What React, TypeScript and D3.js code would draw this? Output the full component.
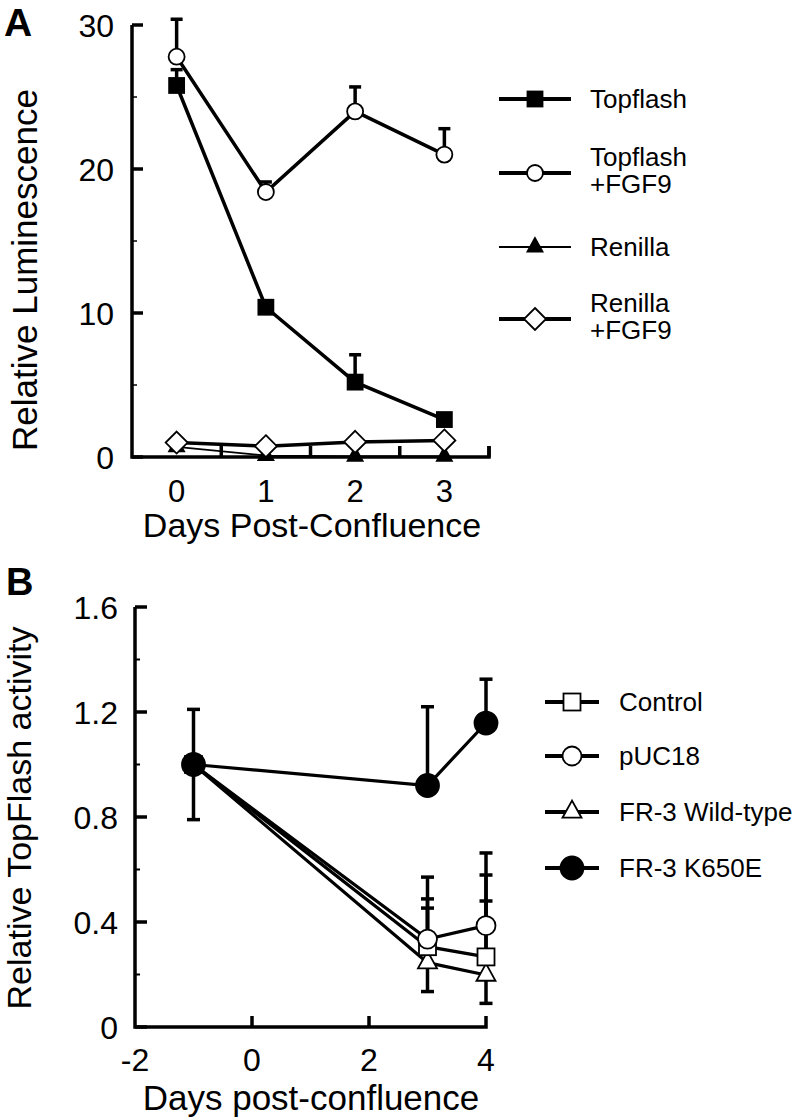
import React from "react";
import * as d3 from "d3";

// ---------- Panel A data ----------
const daysA = [0, 1, 2, 3];
const topflash = [25.8, 10.4, 5.2, 2.6];
const topflashErr = [1.1, 0.4, 1.9, 0.3];
const topflashFgf9 = [27.8, 18.4, 24.0, 21.0];
const topflashFgf9Err = [2.6, 0.7, 1.7, 1.8];
const renilla = [0.7, 0.1, 0.05, 0.05];
const renillaFgf9 = [1.0, 0.75, 1.05, 1.15];
const yTicksA = [0, 10, 20, 30];
const yMinorA = [5, 15, 25];
const xTickMarksA = [0.5, 1.5, 2.5, 3.5];
const xLabelsA = ["0", "1", "2", "3"];

// ---------- Panel B data ----------
const daysB = [-1, 3, 4];
const control = [1.0, 0.306, 0.267];
const controlErrUp = [0, 0.182, 0.312];
const pUC18 = [1.0, 0.335, 0.386];
const pUC18ErrUp = [0, 0.236, 0.277];
const wildType = [1.0, 0.245, 0.198];
const wildTypeErrUp = [0, 0.208, 0.282];
const wildTypeErrDown = [0, 0.11, 0.108];
const k650e = [1.0, 0.92, 1.158];
const k650eErrUp = [0.21, 0.3, 0.167];
const k650eErrDown = [0.21, 0, 0];
const yTicksB = [0, 0.4, 0.8, 1.2, 1.6];
const yLabelsB = ["0", "0.4", "0.8", "1.2", "1.6"];
const yMinorB = [0.2, 0.6, 1.0, 1.4];
const xTicksB = [-2, 0, 2, 4];

const FONT = "'Liberation Sans', Arial, Helvetica, sans-serif";

type Shape = "square" | "circle" | "triangle" | "diamond";

function Marker({ shape, x, y, size, fill, sw = 1.8 }: { shape: Shape; x: number; y: number; size: number; fill: string; sw?: number }) {
  const s = size;
  if (shape === "square") return <rect x={x - s / 2} y={y - s / 2} width={s} height={s} fill={fill} stroke="#000" strokeWidth={sw} />;
  if (shape === "circle") return <circle cx={x} cy={y} r={s / 2} fill={fill} stroke="#000" strokeWidth={sw} />;
  if (shape === "triangle") {
    const h = s * 0.9;
    const pts = `${x},${y - (h * 2) / 3} ${x - s / 2},${y + h / 3} ${x + s / 2},${y + h / 3}`;
    return <polygon points={pts} fill={fill} stroke="#000" strokeWidth={sw} strokeLinejoin="miter" />;
  }
  const pts = `${x},${y - s / 2} ${x + s / 2},${y} ${x},${y + s / 2} ${x - s / 2},${y}`;
  return <polygon points={pts} fill={fill} stroke="#000" strokeWidth={sw} />;
}

function ErrBar({ x, y0, y1, w = 12, sw = 3.5 }: { x: number; y0: number; y1: number; w?: number; sw?: number }) {
  return (
    <g stroke="#000" strokeWidth={sw}>
      <line x1={x} x2={x} y1={y0} y2={y1} />
      <line x1={x - w / 2} x2={x + w / 2} y1={y1} y2={y1} />
    </g>
  );
}

export default function App() {
  // scales A
  const xA = d3.scaleLinear().domain([-0.5, 3.5]).range([132, 489]);
  const yA = d3.scaleLinear().domain([0, 30]).range([457, 25]);
  // scales B
  const xB = d3.scaleLinear().domain([-2, 4]).range([135, 486]);
  const yB = d3.scaleLinear().domain([0, 1.6]).range([1027, 607]);

  const lineA = (vals: number[]) =>
    d3.line<number>().x((_, i) => xA(daysA[i])).y((d) => yA(d))(vals) || "";
  const lineB = (vals: number[]) =>
    d3.line<number>().x((_, i) => xB(daysB[i])).y((d) => yB(d))(vals) || "";

  const seriesA = [
    { name: ["Topflash"], vals: topflash, err: topflashErr, shape: "square" as Shape, fill: "#000", size: 15, lw: 3.5 },
    { name: ["Topflash", "+FGF9"], vals: topflashFgf9, err: topflashFgf9Err, shape: "circle" as Shape, fill: "#fff", size: 16, lw: 3.5 },
    { name: ["Renilla"], vals: renilla, err: null, shape: "triangle" as Shape, fill: "#000", size: 15, lw: 1.8 },
    { name: ["Renilla", "+FGF9"], vals: renillaFgf9, err: null, shape: "diamond" as Shape, fill: "#fff", size: 22, lw: 3.5 },
  ];
  const legendAY = [99, 173, 247, 319];

  const seriesB = [
    { name: "Control", vals: control, up: controlErrUp, down: null as number[] | null, shape: "square" as Shape, fill: "#fff", size: 17 },
    { name: "pUC18", vals: pUC18, up: pUC18ErrUp, down: null, shape: "circle" as Shape, fill: "#fff", size: 19 },
    { name: "FR-3 Wild-type", vals: wildType, up: wildTypeErrUp, down: wildTypeErrDown, shape: "triangle" as Shape, fill: "#fff", size: 19 },
    { name: "FR-3 K650E", vals: k650e, up: k650eErrUp, down: k650eErrDown, shape: "circle" as Shape, fill: "#000", size: 23 },
  ];
  const legendBY = [702, 756, 812, 868];

  return (
    <svg width={800} height={1118} style={{ position: "absolute", left: 0, top: 0, background: "#fff" }} fontFamily={FONT}>
      <rect width={800} height={1118} fill="#fff" />

      {/* ================= Panel A ================= */}
      <text x={4} y={36} fontSize={39} fontWeight="bold">A</text>
      <g stroke="#000" strokeWidth={3.5} fill="none">
        <path d={`M${xA(-0.5)},${yA(30)} V${yA(0)} H${xA(3.5)} V${yA(0) - 11}`} strokeLinejoin="miter" />
        {yTicksA.map((t) => (
          <line key={t} x1={xA(-0.5)} x2={xA(-0.5) + 11} y1={yA(t)} y2={yA(t)} />
        ))}
        {yMinorA.map((t) => (
          <line key={t} x1={xA(-0.5)} x2={xA(-0.5) + 5} y1={yA(t)} y2={yA(t)} strokeWidth={1.5} />
        ))}
        {xTickMarksA.map((t) => (
          <line key={t} x1={xA(t)} x2={xA(t)} y1={yA(0)} y2={yA(0) - 11} />
        ))}
      </g>
      {yTicksA.map((t) => (
        <text key={t} x={114} y={yA(t) + 11.5} fontSize={32} textAnchor="end">{t}</text>
      ))}
      {xLabelsA.map((l, i) => (
        <text key={l} x={xA(daysA[i])} y={502} fontSize={31} textAnchor="middle">{l}</text>
      ))}
      <text x={312} y={537} fontSize={34} textAnchor="middle">Days Post-Confluence</text>
      <text transform={`translate(37,270) rotate(-90)`} fontSize={35} textAnchor="middle">Relative Luminescence</text>

      {seriesA.map((s, k) => (
        <path key={k} d={lineA(s.vals)} fill="none" stroke="#000" strokeWidth={s.lw} />
      ))}
      {seriesA.map((s, k) =>
        s.err
          ? s.vals.map((v, i) => <ErrBar key={`${k}-${i}`} x={xA(daysA[i])} y0={yA(v)} y1={yA(v + s.err![i])} />)
          : null
      )}
      {[2, 0, 3, 1].map((k) =>
        seriesA[k].vals.map((v, i) => (
          <Marker key={`${k}-${i}`} shape={seriesA[k].shape} x={xA(daysA[i])} y={yA(v)} size={seriesA[k].size} fill={seriesA[k].fill} />
        ))
      )}
      {seriesA.map((s, k) => {
        const y = legendAY[k];
        return (
          <g key={k}>
            <line x1={499} x2={571} y1={y} y2={y} stroke="#000" strokeWidth={s.lw === 1.8 ? 2 : 4} />
            <Marker shape={s.shape} x={535} y={y} size={s.size} fill={s.fill} />
            {s.name.length === 1 ? (
              <text x={590} y={y + 9} fontSize={26}>{s.name[0]}</text>
            ) : (
              <text fontSize={26}>
                <tspan x={590} y={y - 7}>{s.name[0]}</tspan>
                <tspan x={590} y={y + 20}>{s.name[1]}</tspan>
              </text>
            )}
          </g>
        );
      })}

      {/* ================= Panel B ================= */}
      <text x={6} y={595} fontSize={38} fontWeight="bold">B</text>
      <g stroke="#000" strokeWidth={3.5} fill="none">
        <path d={`M${xB(-2)},${yB(1.6)} V${yB(0)} H${xB(4)} V${yB(0) - 11}`} />
        {yTicksB.map((t) => (
          <line key={t} x1={xB(-2)} x2={xB(-2) + 12} y1={yB(t)} y2={yB(t)} />
        ))}
        {yMinorB.map((t) => (
          <line key={t} x1={xB(-2)} x2={xB(-2) + 5} y1={yB(t)} y2={yB(t)} strokeWidth={2} />
        ))}
        {xTicksB.slice(1, 3).map((t) => (
          <line key={t} x1={xB(t)} x2={xB(t)} y1={yB(0)} y2={yB(0) - 11} />
        ))}
      </g>
      {yTicksB.map((t, i) => (
        <text key={t} x={118} y={yB(t) + 11.5} fontSize={32} textAnchor="end">{yLabelsB[i]}</text>
      ))}
      {xTicksB.map((t) => (
        <text key={t} x={xB(t)} y={1071} fontSize={32} textAnchor="middle">{t}</text>
      ))}
      <text x={311} y={1110} fontSize={35} textAnchor="middle">Days post-confluence</text>
      <text transform={`translate(31,818) rotate(-90)`} fontSize={34} textAnchor="middle">Relative TopFlash activity</text>

      {seriesB.map((s, k) =>
        s.vals.map((v, i) => (
          <g key={`${k}-${i}`}>
            {s.up && s.up[i] > 0 ? <ErrBar x={xB(daysB[i])} y0={yB(v)} y1={yB(v + s.up[i])} w={13} sw={3.5} /> : null}
            {s.down && s.down[i] > 0 ? <ErrBar x={xB(daysB[i])} y0={yB(v)} y1={yB(v - s.down[i])} w={13} sw={3.5} /> : null}
          </g>
        ))
      )}
      {seriesB.map((s, k) => (
        <path key={k} d={lineB(s.vals)} fill="none" stroke="#000" strokeWidth={3.2} />
      ))}
      {[2, 0, 1, 3].map((k) =>
        seriesB[k].vals.map((v, i) => (
          <Marker key={`${k}-${i}`} shape={seriesB[k].shape} x={xB(daysB[i])} y={yB(v)} size={seriesB[k].size} fill={seriesB[k].fill} />
        ))
      )}
      {seriesB.map((s, k) => {
        const y = legendBY[k];
        return (
          <g key={k}>
            <line x1={545} x2={599} y1={y} y2={y} stroke="#000" strokeWidth={4} />
            <Marker shape={s.shape} x={572} y={y} size={s.size} fill={s.fill} />
            <text x={619} y={y + 9} fontSize={26}>{s.name}</text>
          </g>
        );
      })}
    </svg>
  );
}
